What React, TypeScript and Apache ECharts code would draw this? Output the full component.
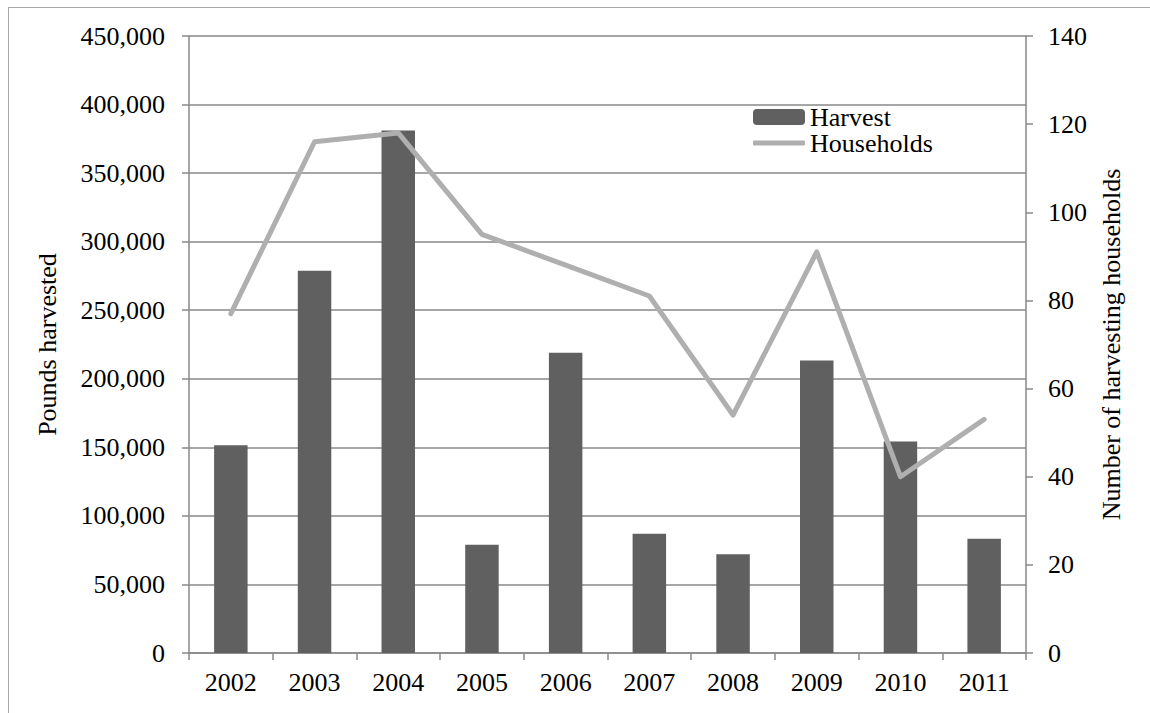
import React, { useEffect, useRef } from "react";
import * as echarts from "echarts";

const years = ["2002", "2003", "2004", "2005", "2006", "2007", "2008", "2009", "2010", "2011"];
const harvest = [151600, 278700, 381000, 79000, 219000, 87000, 72000, 213300, 154200, 83300];
const households = [77, 116, 118, 95, 88, 81, 54, 91, 40, 53];

const FONT = "'Liberation Serif', 'Times New Roman', serif";
const AXIS_GRAY = "#888888";
const LINE_GRAY = "#afafaf";

export default function App() {
  const ref = useRef<HTMLDivElement>(null);
  useEffect(() => {
    if (!ref.current) return;
    const chart = echarts.init(ref.current, undefined, { renderer: "svg" });
    chart.setOption({
      animation: false,
      backgroundColor: "#ffffff",
      textStyle: { fontFamily: FONT },
      grid: { left: 189, right: 124, top: 36, bottom: 60, containLabel: false },
      legend: [
        {
          data: ["Harvest"],
          left: 748,
          top: 99,
          itemWidth: 52,
          itemHeight: 16,
          textStyle: { fontFamily: FONT, fontSize: 26, lineHeight: 22, color: "#000" },
        },
        {
          data: [{ name: "Households", icon: "roundRect" }],
          left: 748,
          top: 125,
          itemWidth: 52,
          itemHeight: 5,
          itemStyle: { color: LINE_GRAY },
          textStyle: { fontFamily: FONT, fontSize: 26, lineHeight: 22, color: "#000" },
        },
      ],
      xAxis: {
        type: "category",
        data: years,
        boundaryGap: true,
        axisLine: { lineStyle: { color: AXIS_GRAY, width: 1.5 } },
        axisTick: { show: true, length: 7, alignWithLabel: false, lineStyle: { color: AXIS_GRAY, width: 1.5 } },
        axisLabel: { fontFamily: FONT, fontSize: 26, color: "#000", margin: 16 },
      },
      yAxis: [
        {
          type: "value",
          min: 0,
          max: 450000,
          interval: 50000,
          name: "Pounds harvested",
          nameLocation: "middle",
          nameGap: 129,
          nameTextStyle: { fontFamily: FONT, fontSize: 26, color: "#000" },
          axisLine: { show: true, lineStyle: { color: AXIS_GRAY, width: 1.5 } },
          axisTick: { show: true, length: 7, lineStyle: { color: AXIS_GRAY, width: 1.5 } },
          axisLabel: {
            fontFamily: FONT,
            fontSize: 26,
            color: "#000",
            margin: 24,
            formatter: (v: number) => v.toLocaleString("en-US"),
          },
          splitLine: { show: true, lineStyle: { color: AXIS_GRAY, width: 1.5 } },
        },
        {
          type: "value",
          min: 0,
          max: 140,
          interval: 20,
          position: "right",
          name: "Number of harvesting households",
          nameLocation: "middle",
          nameGap: 72,
          nameRotate: 90,
          nameTextStyle: { fontFamily: FONT, fontSize: 26, color: "#000" },
          axisLine: { show: true, lineStyle: { color: AXIS_GRAY, width: 1.5 } },
          axisTick: { show: true, length: 7, lineStyle: { color: AXIS_GRAY, width: 1.5 } },
          axisLabel: { fontFamily: FONT, fontSize: 26, color: "#000", margin: 22 },
          splitLine: { show: false },
        },
      ],
      series: [
        {
          name: "Harvest",
          type: "bar",
          yAxisIndex: 0,
          data: harvest,
          barWidth: "40%",
          itemStyle: { color: "#606060" },
        },
        {
          name: "Households",
          type: "line",
          yAxisIndex: 1,
          data: households,
          symbol: "none",
          lineStyle: { color: LINE_GRAY, width: 5, cap: "round", join: "round" },
          itemStyle: { color: LINE_GRAY },
        },
      ],
      graphic: [
        { type: "line", shape: { x1: 8, y1: 7.5, x2: 1150, y2: 7.5 }, style: { stroke: "#a9a9a9", lineWidth: 1 } },
        { type: "line", shape: { x1: 8.5, y1: 7, x2: 8.5, y2: 713 }, style: { stroke: "#a9a9a9", lineWidth: 1 } },
      ],
    });
    return () => chart.dispose();
  }, []);
  return (
    <div
      ref={ref}
      style={{ position: "absolute", left: 0, top: 0, width: 1150, height: 713 }}
    />
  );
}
